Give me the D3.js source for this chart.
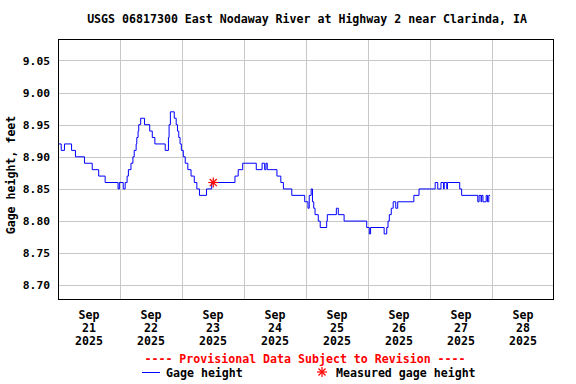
<!DOCTYPE html>
<html>
<head>
<meta charset="utf-8">
<script src="https://cdn.jsdelivr.net/npm/d3@7"></script>
<style>
  body { margin: 0; background: #fff; }
  svg text { font-family: "DejaVu Sans Mono", monospace; font-weight: bold; }
</style>
</head>
<body>
<div id="chart"></div>
<script>
// Gage height readings: hours after Sep 21 2025 00:00, value in feet (step changes)
const hours = [0, 1.25, 2.5, 5.25, 6.75, 10.25, 13.25, 15.75, 18.25, 23.25, 23.75, 25.25, 26, 26.75,
  27.25, 28.25, 29, 29.5, 30.25, 30.5, 31, 31.25, 32, 33.5, 35.5, 36.5, 37.5, 41.5, 42.75, 43, 43.5,
  45, 45.75, 46.25, 46.75, 47.25, 47.75, 48.5, 49.25, 50.25, 51.5, 52.75, 53.75, 54.75, 57.5, 59.5,
  68.5, 69.75, 71.5, 76.75, 79, 80, 80.5, 81, 81.75, 84.75, 86.25, 87.25, 90.5, 95.5, 96.75, 97.25,
  98, 98.5, 99, 99.5, 100.75, 101.5, 104, 104.25, 107.75, 108.5, 110.75, 119.5, 120.5, 121, 126.25,
  127.25, 127.75, 128.25, 129, 129.75, 130.75, 131.5, 137.75, 139.75, 146, 147, 148.25, 149.25,
  149.5, 150.5, 150.75, 155.5, 156.25, 162.5, 163, 163.75, 164, 164.5, 165.75, 166.25, 166.75, 167.25];
const heights = [8.92, 8.91, 8.92, 8.91, 8.90, 8.89, 8.88, 8.87, 8.86, 8.85, 8.86, 8.85, 8.86, 8.87,
  8.88, 8.89, 8.90, 8.91, 8.92, 8.93, 8.94, 8.95, 8.96, 8.95, 8.94, 8.93, 8.92, 8.91, 8.93, 8.95, 8.97,
  8.96, 8.95, 8.94, 8.93, 8.92, 8.91, 8.90, 8.89, 8.88, 8.87, 8.86, 8.85, 8.84, 8.85, 8.86,
  8.87, 8.88, 8.89, 8.88, 8.89, 8.88, 8.89, 8.88, 8.88, 8.87, 8.86, 8.85, 8.84, 8.83, 8.82, 8.84,
  8.85, 8.83, 8.82, 8.81, 8.80, 8.79, 8.80, 8.81, 8.82, 8.81, 8.80, 8.79, 8.78, 8.79, 8.78,
  8.79, 8.80, 8.81, 8.82, 8.83, 8.82, 8.83, 8.84, 8.85, 8.86, 8.85, 8.86, 8.85,
  8.86, 8.85, 8.86, 8.85, 8.84, 8.83, 8.84, 8.83, 8.84, 8.83, 8.84, 8.83, 8.84, 8.84];

// Field measurement
const measuredHours = [60.1];
const measuredHeights = [8.86];

const yTicks = [8.70, 8.75, 8.80, 8.85, 8.90, 8.95, 9.00, 9.05];
const dayLabels = ["21", "22", "23", "24", "25", "26", "27", "28"];

const title = "USGS 06817300 East Nodaway River at Highway 2 near Clarinda, IA";

const start = new Date(2025, 8, 21);
const toDate = h => new Date(start.getTime() + h * 3600e3);
const data = hours.map((h, i) => ({ t: toDate(h), v: heights[i] }));
const measured = measuredHours.map((h, i) => ({ t: toDate(h), v: measuredHeights[i] }));

const margin = { top: 39, right: 22, bottom: 84, left: 58 };
const W = 576, H = 384;
const width = W - margin.left - margin.right;
const height = H - margin.top - margin.bottom;

const svg = d3.select("#chart").append("svg")
    .attr("width", W).attr("height", H);

svg.append("text")
    .attr("x", 307).attr("y", 23)
    .attr("text-anchor", "middle")
    .style("font-size", "11.6px")
    .text(title);

const g = svg.append("g").attr("transform", `translate(${margin.left},${margin.top})`);

const x = d3.scaleTime().domain([start, new Date(2025, 8, 29)]).range([0, width]);
const y = d3.scaleLinear().domain([8.6772, 9.0833]).range([height, 0]);

// grid
g.selectAll(".hgrid").data(yTicks).enter().append("line")
    .attr("x1", 0).attr("x2", width)
    .attr("y1", d => Math.round(y(d)) + 0.5).attr("y2", d => Math.round(y(d)) + 0.5)
    .attr("stroke", "#c8c8c8").attr("stroke-width", 1);

const midnights = d3.range(1, 8).map(d => new Date(2025, 8, 21 + d));
g.selectAll(".vgrid").data(midnights).enter().append("line")
    .attr("x1", d => Math.round(x(d)) + 0.5).attr("x2", d => Math.round(x(d)) + 0.5)
    .attr("y1", 0).attr("y2", height)
    .attr("stroke", "#c8c8c8").attr("stroke-width", 1);

// y axis labels
const yAxis = g.append("g")
    .call(d3.axisLeft(y).tickValues(yTicks).tickSize(0).tickPadding(8).tickFormat(d3.format(".2f")));
yAxis.select(".domain").remove();
yAxis.selectAll("text")
    .style("font-size", "11.3px")
    .style("font-family", "DejaVu Sans Mono, monospace")
    .style("font-weight", "bold")
    .attr("fill", "#000");

// x labels at noon of each day
const noons = dayLabels.map((d, i) => new Date(2025, 8, 21 + i, 12));
const xl = g.selectAll(".xlab").data(noons).enter().append("text")
    .attr("text-anchor", "middle")
    .style("font-size", "11.6px")
    .attr("transform", d => `translate(${x(d)},${height})`);
xl.append("tspan").attr("x", 0).attr("y", 19).text("Sep");
xl.append("tspan").attr("x", 0).attr("y", 32).text((d, i) => dayLabels[i]);
xl.append("tspan").attr("x", 0).attr("y", 45).text("2025");

// y axis title
svg.append("text")
    .attr("transform", "translate(15,175) rotate(-90)")
    .attr("text-anchor", "middle")
    .style("font-size", "11.6px")
    .text("Gage height, feet");

// data line
g.append("path")
    .datum(data)
    .attr("fill", "none")
    .attr("stroke", "#0000ff")
    .attr("stroke-width", 1)
    .attr("d", d3.line().curve(d3.curveStepAfter).x(d => x(d.t)).y(d => y(d.v)));

// measured point star
function star(sel, r) {
    [0, 45, 90, 135].forEach(a => {
        const rad = a * Math.PI / 180;
        sel.append("line")
            .attr("x1", -r * Math.cos(rad)).attr("y1", -r * Math.sin(rad))
            .attr("x2", r * Math.cos(rad)).attr("y2", r * Math.sin(rad))
            .attr("stroke", "#ff0000").attr("stroke-width", 1.2);
    });
}
measured.forEach(d => {
    const s = g.append("g").attr("transform", `translate(${x(d.t)},${y(d.v)})`);
    star(s, 5);
});

// frame
g.append("rect")
    .attr("x", 0.5).attr("y", 0.5).attr("width", width - 1).attr("height", height - 1)
    .attr("fill", "none").attr("stroke", "#000").attr("stroke-width", 1);

// footer
svg.append("text")
    .attr("x", 305).attr("y", 363)
    .attr("text-anchor", "middle")
    .attr("fill", "#ff0000")
    .style("font-size", "11.6px")
    .text("---- Provisional Data Subject to Revision ----");

svg.append("line")
    .attr("x1", 142).attr("x2", 160).attr("y1", 372.5).attr("y2", 372.5)
    .attr("stroke", "#0000ff").attr("stroke-width", 1);
svg.append("text").attr("x", 166).attr("y", 377)
    .style("font-size", "11.6px").text("Gage height");

const ls = svg.append("g").attr("transform", "translate(322,372)");
star(ls, 5);
svg.append("text").attr("x", 336).attr("y", 377)
    .style("font-size", "11.6px").text("Measured gage height");
</script>
</body>
</html>
